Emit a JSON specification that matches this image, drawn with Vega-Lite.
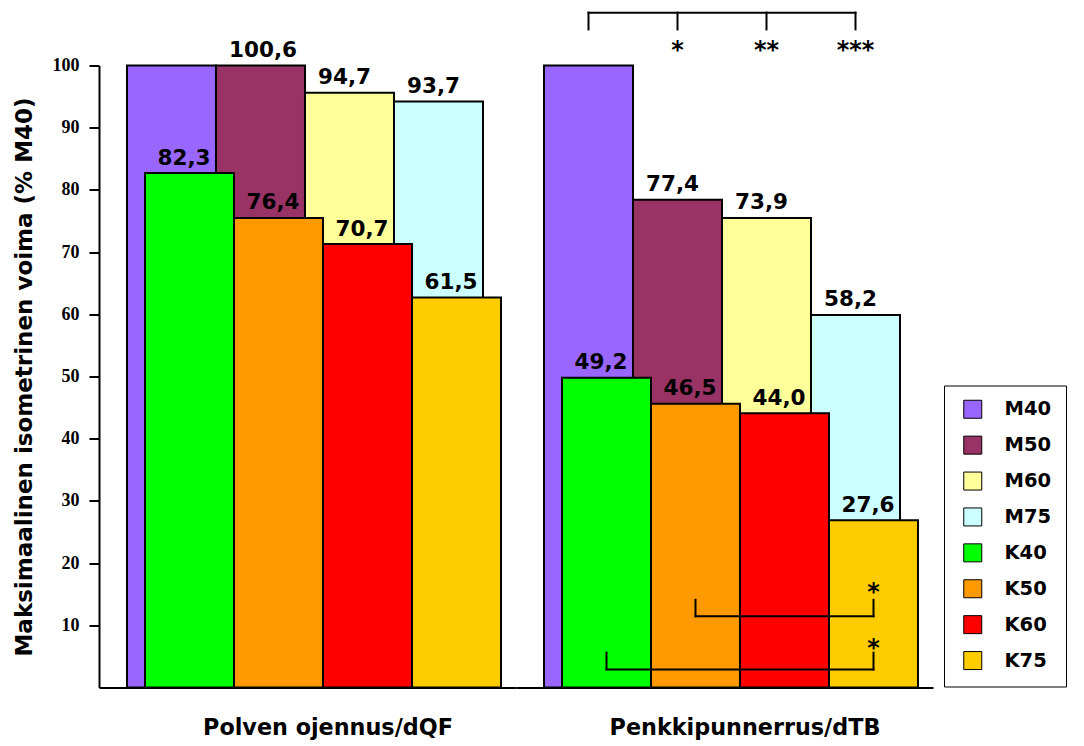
{
  "$schema": "https://vega.github.io/schema/vega-lite/v6.json",
  "padding": {"left": 13, "top": 10.5, "right": 0, "bottom": 0},
  "background": "white",
  "bounds": "flush",
  "data": {
    "values": [
      {"tyyppi": "pylvas", "ryhma": "Polven ojennus/dQF", "sarja": "M40", "rivi": "M", "taso": "40", "korkeus": 100, "teksti": ""},
      {"tyyppi": "pylvas", "ryhma": "Polven ojennus/dQF", "sarja": "M50", "rivi": "M", "taso": "50", "korkeus": 100, "teksti": "100,6"},
      {"tyyppi": "pylvas", "ryhma": "Polven ojennus/dQF", "sarja": "M60", "rivi": "M", "taso": "60", "korkeus": 95.6, "teksti": "94,7"},
      {"tyyppi": "pylvas", "ryhma": "Polven ojennus/dQF", "sarja": "M75", "rivi": "M", "taso": "75", "korkeus": 94.2, "teksti": "93,7"},
      {"tyyppi": "pylvas", "ryhma": "Polven ojennus/dQF", "sarja": "K40", "rivi": "K", "taso": "40", "korkeus": 82.7, "teksti": "82,3"},
      {"tyyppi": "pylvas", "ryhma": "Polven ojennus/dQF", "sarja": "K50", "rivi": "K", "taso": "50", "korkeus": 75.5, "teksti": "76,4"},
      {"tyyppi": "pylvas", "ryhma": "Polven ojennus/dQF", "sarja": "K60", "rivi": "K", "taso": "60", "korkeus": 71.3, "teksti": "70,7"},
      {"tyyppi": "pylvas", "ryhma": "Polven ojennus/dQF", "sarja": "K75", "rivi": "K", "taso": "75", "korkeus": 62.7, "teksti": "61,5"},
      {"tyyppi": "pylvas", "ryhma": "Penkkipunnerrus/dTB", "sarja": "M40", "rivi": "M", "taso": "40", "korkeus": 100, "teksti": ""},
      {"tyyppi": "pylvas", "ryhma": "Penkkipunnerrus/dTB", "sarja": "M50", "rivi": "M", "taso": "50", "korkeus": 78.4, "teksti": "77,4"},
      {"tyyppi": "pylvas", "ryhma": "Penkkipunnerrus/dTB", "sarja": "M60", "rivi": "M", "taso": "60", "korkeus": 75.5, "teksti": "73,9"},
      {"tyyppi": "pylvas", "ryhma": "Penkkipunnerrus/dTB", "sarja": "M75", "rivi": "M", "taso": "75", "korkeus": 59.9, "teksti": "58,2"},
      {"tyyppi": "pylvas", "ryhma": "Penkkipunnerrus/dTB", "sarja": "K40", "rivi": "K", "taso": "40", "korkeus": 49.8, "teksti": "49,2"},
      {"tyyppi": "pylvas", "ryhma": "Penkkipunnerrus/dTB", "sarja": "K50", "rivi": "K", "taso": "50", "korkeus": 45.6, "teksti": "46,5"},
      {"tyyppi": "pylvas", "ryhma": "Penkkipunnerrus/dTB", "sarja": "K60", "rivi": "K", "taso": "60", "korkeus": 44.1, "teksti": "44,0"},
      {"tyyppi": "pylvas", "ryhma": "Penkkipunnerrus/dTB", "sarja": "K75", "rivi": "K", "taso": "75", "korkeus": 26.9, "teksti": "27,6"},
      {"tyyppi": "haarukka", "ryhma": "Penkkipunnerrus/dTB", "rivi": "M", "taso": "40", "taso2": "75", "ya": 108.5, "yb": 108.5},
      {"tyyppi": "haarukka", "ryhma": "Penkkipunnerrus/dTB", "rivi": "M", "taso": "40", "taso2": "40", "ya": 108.5, "yb": 105.8},
      {"tyyppi": "haarukka", "ryhma": "Penkkipunnerrus/dTB", "rivi": "M", "taso": "50", "taso2": "50", "ya": 108.5, "yb": 105.8},
      {"tyyppi": "haarukka", "ryhma": "Penkkipunnerrus/dTB", "rivi": "M", "taso": "60", "taso2": "60", "ya": 108.5, "yb": 105.8},
      {"tyyppi": "haarukka", "ryhma": "Penkkipunnerrus/dTB", "rivi": "M", "taso": "75", "taso2": "75", "ya": 108.5, "yb": 105.8},
      {"tyyppi": "haarukka", "ryhma": "Penkkipunnerrus/dTB", "rivi": "K", "taso": "50", "taso2": "75", "ya": 11.45, "yb": 11.45},
      {"tyyppi": "haarukka", "ryhma": "Penkkipunnerrus/dTB", "rivi": "K", "taso": "50", "taso2": "50", "ya": 11.45, "yb": 14.1},
      {"tyyppi": "haarukka", "ryhma": "Penkkipunnerrus/dTB", "rivi": "K", "taso": "75", "taso2": "75", "ya": 11.45, "yb": 14.1},
      {"tyyppi": "haarukka", "ryhma": "Penkkipunnerrus/dTB", "rivi": "K", "taso": "40", "taso2": "75", "ya": 2.9, "yb": 2.9},
      {"tyyppi": "haarukka", "ryhma": "Penkkipunnerrus/dTB", "rivi": "K", "taso": "40", "taso2": "40", "ya": 2.9, "yb": 5.6},
      {"tyyppi": "haarukka", "ryhma": "Penkkipunnerrus/dTB", "rivi": "K", "taso": "75", "taso2": "75", "ya": 2.9, "yb": 5.6},
      {"tyyppi": "tahti", "ryhma": "Penkkipunnerrus/dTB", "rivi": "M", "taso": "50", "ya": 101.25, "teksti": "*"},
      {"tyyppi": "tahti", "ryhma": "Penkkipunnerrus/dTB", "rivi": "M", "taso": "60", "ya": 101.25, "teksti": "**"},
      {"tyyppi": "tahti", "ryhma": "Penkkipunnerrus/dTB", "rivi": "M", "taso": "75", "ya": 101.25, "teksti": "***"},
      {"tyyppi": "tahti", "ryhma": "Penkkipunnerrus/dTB", "rivi": "K", "taso": "75", "ya": 14.07, "teksti": "*"},
      {"tyyppi": "tahti", "ryhma": "Penkkipunnerrus/dTB", "rivi": "K", "taso": "75", "ya": 5.03, "teksti": "*"},
      {"tyyppi": "otsikko", "ryhma": "Polven ojennus/dQF", "taso": "60", "ya": -7.66, "teksti": "Polven ojennus/dQF"},
      {"tyyppi": "otsikko", "ryhma": "Penkkipunnerrus/dTB", "taso": "60", "ya": -7.66, "teksti": "Penkkipunnerrus/dTB"}
    ]
  },
  "facet": {
    "column": {
      "field": "ryhma",
      "type": "nominal",
      "sort": ["Polven ojennus/dQF", "Penkkipunnerrus/dTB"],
      "header": {"title": null, "labels": false}
    }
  },
  "spacing": {"column": 0},
  "spec": {
    "width": 417,
    "height": 622,
    "encoding": {
      "x": {
        "field": "taso",
        "type": "nominal",
        "scale": {"domain": ["40", "50", "60", "75"], "paddingInner": 0, "paddingOuter": 0.3427, "align": 0.459},
        "axis": {"title": null, "labels": false, "ticks": false, "domainColor": "black", "domainWidth": 2, "grid": false}
      }
    },
    "layer": [
      {
        "transform": [{"filter": "datum.tyyppi === 'pylvas' && datum.rivi === 'M'"}],
        "mark": {"type": "bar", "stroke": "black", "strokeWidth": 2},
        "encoding": {
          "y": {
            "field": "korkeus",
            "type": "quantitative",
            "scale": {"domain": [0, 100], "nice": false, "zero": true},
            "axis": {
              "title": "Maksimaalinen isometrinen voima (% M40)",
              "values": [10, 20, 30, 40, 50, 60, 70, 80, 90, 100],
              "grid": false,
              "domainColor": "black",
              "domainWidth": 2,
              "tickColor": "black",
              "tickWidth": 2,
              "tickSize": 10,
              "labelFont": "Liberation Sans Narrow",
              "labelFontWeight": "bold",
              "labelFontSize": 18,
              "labelColor": "black",
              "labelPadding": 10,
              "titleFont": "DejaVu Sans",
              "titleFontWeight": "bold",
              "titleFontSize": 23,
              "titleColor": "black",
              "titlePadding": 16
            }
          },
          "color": {
            "field": "sarja",
            "type": "nominal",
            "scale": {
              "domain": ["M40", "M50", "M60", "M75", "K40", "K50", "K60", "K75"],
              "range": ["#9966FF", "#993366", "#FFFF99", "#CCFFFF", "#00FF00", "#FF9900", "#FF0000", "#FFCC00"]
            },
            "legend": {
              "title": null,
              "orient": "none",
              "legendX": 845,
              "legendY": 320,
              "symbolType": "square",
              "symbolSize": 324,
              "symbolStrokeColor": "black",
              "symbolStrokeWidth": 1,
              "symbolOpacity": 1,
              "symbolOffset": 5,
              "labelFont": "DejaVu Sans",
              "labelFontWeight": "bold",
              "labelFontSize": 19.5,
              "labelColor": "black",
              "labelOffset": 22,
              "rowPadding": 12.9,
              "padding": 14,
              "strokeColor": "black",
              "fillColor": "white"
            }
          }
        }
      },
      {
        "transform": [{"filter": "datum.tyyppi === 'pylvas' && datum.rivi === 'K'"}],
        "mark": {"type": "bar", "stroke": "black", "strokeWidth": 2, "xOffset": 18, "x2Offset": 18},
        "encoding": {
          "y": {"field": "korkeus", "type": "quantitative"},
          "color": {"field": "sarja", "type": "nominal"}
        }
      },
      {
        "transform": [{"filter": "datum.tyyppi === 'pylvas' && datum.rivi === 'M' && datum.teksti !== ''"}],
        "mark": {"type": "text", "align": "left", "baseline": "alphabetic", "dx": 13, "dy": -8.5, "font": "DejaVu Sans", "fontWeight": "bold", "fontSize": 21.5, "color": "black"},
        "encoding": {
          "x": {"field": "taso", "type": "nominal", "bandPosition": 0},
          "y": {"field": "korkeus", "type": "quantitative"},
          "text": {"field": "teksti"}
        }
      },
      {
        "transform": [{"filter": "datum.tyyppi === 'pylvas' && datum.rivi === 'K'"}],
        "mark": {"type": "text", "align": "left", "baseline": "alphabetic", "dx": 30.5, "dy": -8.5, "font": "DejaVu Sans", "fontWeight": "bold", "fontSize": 21.5, "color": "black"},
        "encoding": {
          "x": {"field": "taso", "type": "nominal", "bandPosition": 0},
          "y": {"field": "korkeus", "type": "quantitative"},
          "text": {"field": "teksti"}
        }
      },
      {
        "transform": [{"filter": "datum.tyyppi === 'haarukka' && datum.rivi === 'M'"}],
        "mark": {"type": "rule", "color": "black", "strokeWidth": 2, "strokeCap": "square"},
        "encoding": {
          "x": {"field": "taso", "type": "nominal", "bandPosition": 0.5},
          "x2": {"field": "taso2"},
          "y": {"field": "ya", "type": "quantitative"},
          "y2": {"field": "yb"}
        }
      },
      {
        "transform": [{"filter": "datum.tyyppi === 'haarukka' && datum.rivi === 'K'"}],
        "mark": {"type": "rule", "color": "black", "strokeWidth": 2, "strokeCap": "square", "xOffset": 18, "x2Offset": 18},
        "encoding": {
          "x": {"field": "taso", "type": "nominal", "bandPosition": 0.5},
          "x2": {"field": "taso2"},
          "y": {"field": "ya", "type": "quantitative"},
          "y2": {"field": "yb"}
        }
      },
      {
        "transform": [{"filter": "datum.tyyppi === 'tahti' && datum.rivi === 'M'"}],
        "mark": {"type": "text", "align": "center", "baseline": "alphabetic", "font": "DejaVu Sans", "fontWeight": "bold", "fontSize": 24, "color": "black"},
        "encoding": {
          "x": {"field": "taso", "type": "nominal", "bandPosition": 0.5},
          "y": {"field": "ya", "type": "quantitative"},
          "text": {"field": "teksti"}
        }
      },
      {
        "transform": [{"filter": "datum.tyyppi === 'tahti' && datum.rivi === 'K'"}],
        "mark": {"type": "text", "align": "center", "baseline": "alphabetic", "dx": 18, "font": "DejaVu Sans", "fontWeight": "bold", "fontSize": 24, "color": "black"},
        "encoding": {
          "x": {"field": "taso", "type": "nominal", "bandPosition": 0.5},
          "y": {"field": "ya", "type": "quantitative"},
          "text": {"field": "teksti"}
        }
      },
      {
        "transform": [{"filter": "datum.tyyppi === 'otsikko'"}],
        "mark": {"type": "text", "align": "center", "baseline": "alphabetic", "dx": 23, "font": "DejaVu Sans", "fontWeight": "bold", "fontSize": 22.3, "color": "black"},
        "encoding": {
          "x": {"field": "taso", "type": "nominal", "bandPosition": 0},
          "y": {"field": "ya", "type": "quantitative"},
          "text": {"field": "teksti"}
        }
      }
    ]
  },
  "config": {
    "view": {"stroke": null},
    "font": "DejaVu Sans"
  }
}
